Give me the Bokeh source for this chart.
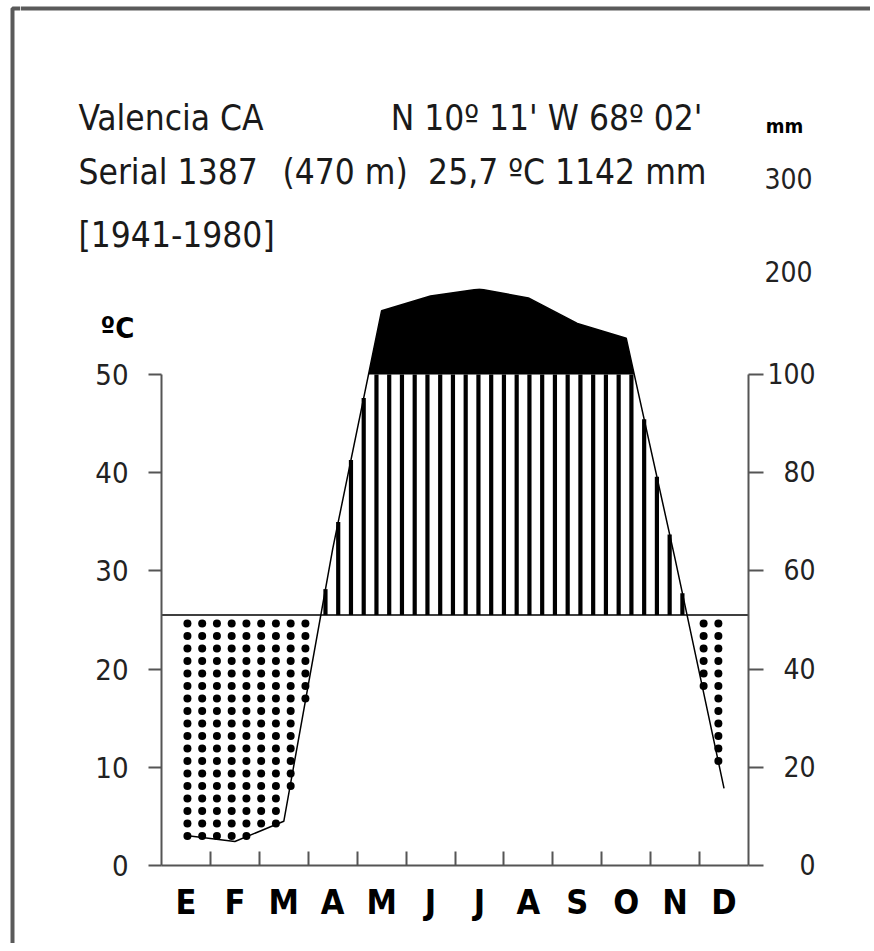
import numpy as np
from bokeh.plotting import figure
from bokeh.layouts import column, row
from bokeh.models import Range1d, LinearAxis, FixedTicker, Label
from bokeh.embed import file_html
from bokeh.resources import INLINE

# ---------------- data ----------------
months = ["E", "F", "M", "A", "M", "J", "J", "A", "S", "O", "N", "D"]
temp_c = [25.5, 25.5, 25.5, 25.5, 25.5, 25.5, 25.5, 25.5, 25.5, 25.5, 25.5, 25.5]
precip_mm = [6.1, 4.9, 9.0, 64.5, 165.0, 180.0, 187.0, 178.0, 152.0, 137.0, 62.4, 15.7]
temp_ticks = [0, 10, 20, 30, 40, 50]
precip_ticks = [0, 20, 40, 60, 80, 100]
precip_upper_ticks = [200, 300]
title_station = "Valencia  CA"
title_coords = "N 10º 11' W 68º 02'"
title_serial = "Serial 1387"
title_alt = "(470 m)"
title_means = "25,7 ºC 1142 mm"
title_period = "[1941-1980]"

# ---------------- layout constants ----------------
FONT = "DejaVu Sans Condensed"
W, H = 870, 943
HEAD_H = 288            # header strip height
STRIP_W = 20            # left strip holding the outer frame line
CH_W, CH_H = W - STRIP_W, H - HEAD_H
BL, BR, BT, BB = 161 - STRIP_W, W - 748, 0, 78
PX_PER_C = 9.82
YTOP = (CH_H - BT - BB) / PX_PER_C
Y_ZERO_PAGE = HEAD_H + CH_H - BB  # page y of 0 degC
FRAME_COLOR = "#5a5a5a"
AX = "#555555"
LBL = "#222222"


def precip_to_c(p):
    # Walter-Lieth scale: 2 mm per degC up to 100 mm, 10 mm per degC above
    return p / 2.0 if p <= 100 else 50.0 + (p - 100.0) / 10.0


def page_y_of_mm(v):
    return Y_ZERO_PAGE - precip_to_c(v) * PX_PER_C


def blank_fig(x0, x1, y0, y1):
    f = figure(width=x1 - x0, height=y1 - y0, x_range=Range1d(x0, x1), y_range=Range1d(y1, y0),
               output_backend="svg", toolbar_location=None,
               x_axis_location=None, y_axis_location=None,
               min_border=0, min_border_left=0, min_border_right=0,
               min_border_top=0, min_border_bottom=0)
    f.grid.visible = False
    f.outline_line_color = None
    f.background_fill_color = "white"
    f.border_fill_color = "white"
    return f


# ---------------- left strip (outer frame line), page coordinates ----------------
strip = blank_fig(0, STRIP_W, 0, H)
strip.line(x=[12, 12, STRIP_W], y=[H, 8, 8], line_color=FRAME_COLOR, line_width=4)

# ---------------- header, page coordinates ----------------
head = blank_fig(STRIP_W, W, 0, HEAD_H)
TT = dict(text_font=FONT, text_font_size="35px", text_color="#1a1a1a",
          text_baseline="alphabetic")
head.add_layout(Label(x=78, y=117, text=title_station, text_align="left", **TT))
head.add_layout(Label(x=702, y=117, text=title_coords, text_align="right", **TT))
head.add_layout(Label(x=78, y=171, text=title_serial, text_align="left", **TT))
head.add_layout(Label(x=282, y=171, text=title_alt, text_align="left", **TT))
head.add_layout(Label(x=706, y=171, text=title_means, text_align="right", **TT))
head.add_layout(Label(x=78, y=234, text=title_period, text_align="left", **TT))
head.add_layout(Label(x=784, y=125, text="mm", text_align="center", text_baseline="middle",
                      text_font=FONT, text_font_style="bold", text_font_size="20px",
                      text_color="black"))
for v in precip_upper_ticks:
    # keep the 200 label fully inside the header strip
    head.add_layout(Label(x=812, y=min(page_y_of_mm(v), HEAD_H - 17), text=str(v),
                          text_align="right", text_baseline="middle", text_font=FONT,
                          text_font_size="28px", text_color=LBL))
head.line(x=[STRIP_W, W], y=[8, 8], line_color=FRAME_COLOR, line_width=4)

# ---------------- climate chart ----------------
x_mid = np.arange(12) + 0.5
t = np.array(temp_c, dtype=float)
pc = np.array([precip_to_c(v) for v in precip_mm])

p = figure(width=CH_W, height=CH_H, x_range=Range1d(0, 12), y_range=Range1d(0, YTOP),
           output_backend="svg", toolbar_location=None,
           x_axis_location=None, y_axis_location=None,
           min_border_left=BL, min_border_right=BR,
           min_border_bottom=BB, min_border_top=BT)
p.extra_y_ranges = {"mm": Range1d(0, 2 * YTOP)}
p.grid.visible = False
p.outline_line_color = None
p.background_fill_color = "white"
p.border_fill_color = "white"


def with_crossings(x, y, level):
    xs, ys = [x[0]], [y[0]]
    for i in range(1, len(x)):
        a, b = y[i - 1] - level, y[i] - level
        if a * b < 0:
            f = a / (a - b)
            xs.append(x[i - 1] + f * (x[i] - x[i - 1]))
            ys.append(level)
        xs.append(x[i])
        ys.append(y[i])
    return np.array(xs), np.array(ys)


# black area: precipitation above 100 mm
bx, by = with_crossings(x_mid, pc, 50.0)
p.varea(x=bx, y1=np.full(len(by), 50.0), y2=np.maximum(by, 50.0), fill_color="black")

# vertical hatching: humid period
HATCH_PHASE, HATCH_DX = 0.2248, 0.2606
hx = HATCH_PHASE + HATCH_DX * np.arange(int(12 / HATCH_DX) + 2)
hx = hx[(hx >= 0.5) & (hx <= 11.5)]
hp = np.interp(hx, x_mid, pc)
ht = np.interp(hx, x_mid, t)
mk = hp > ht
p.segment(x0=hx[mk], y0=ht[mk], x1=hx[mk], y1=np.minimum(hp[mk], 50.0),
          line_color="black", line_width=4.2, line_cap="butt")

# dotted area: arid period
DOT_X0, DOT_DX, DOT_DY, DOT_GAP = 0.53, 0.3015, 1.273, 0.86
dcols = DOT_X0 + DOT_DX * np.arange(int(12 / DOT_DX) + 2)
dcols = dcols[(dcols >= 0.5) & (dcols <= 11.5)]
dxs, dys = [], []
for xc in dcols:
    pcol = np.interp(xc, x_mid, pc)
    tcol = np.interp(xc, x_mid, t)
    if pcol >= tcol - 1.0:
        continue
    rows = tcol - DOT_GAP - DOT_DY * np.arange(40)
    rows = rows[rows >= pcol - 0.35]
    dxs.extend([xc] * len(rows))
    dys.extend(rows.tolist())
p.scatter(x=dxs, y=dys, size=8, marker="circle", fill_color="black", line_color=None)

# curves
p.line(x=x_mid, y=pc, line_color="black", line_width=1.5)
p.line(x=np.r_[0.0, x_mid, 12.0], y=np.r_[t[0], t, t[-1]], line_color="black", line_width=1.5)

# bottom axis (months)
xa = LinearAxis(ticker=FixedTicker(ticks=x_mid.tolist(), minor_ticks=list(range(1, 12))),
                major_label_overrides={float(c): m for c, m in zip(x_mid, months)})
xa.axis_line_color = AX
xa.axis_line_width = 2
xa.major_tick_line_color = None
xa.major_tick_in = 0
xa.major_tick_out = 0
xa.minor_tick_line_color = AX
xa.minor_tick_line_width = 2
xa.minor_tick_in = 14
xa.minor_tick_out = 0
xa.major_label_standoff = 16
xa.major_label_text_font = FONT
xa.major_label_text_font_style = "bold"
xa.major_label_text_font_size = "34px"
xa.major_label_text_color = "black"
p.add_layout(xa, "below")

# left axis (degC)
ya = LinearAxis(ticker=FixedTicker(ticks=temp_ticks), bounds=(0, 50))
ya.axis_line_color = AX
ya.axis_line_width = 2
ya.major_tick_line_color = AX
ya.major_tick_line_width = 2
ya.major_tick_in = 0
ya.major_tick_out = 13
ya.minor_tick_line_color = None
ya.major_label_standoff = 20
ya.major_label_text_font = FONT
ya.major_label_text_font_size = "29px"
ya.major_label_text_color = LBL
p.add_layout(ya, "left")

# unit label above the degC axis (side panel, so it is not clipped); chart-canvas coords
p.add_layout(Label(x=100 - STRIP_W, y=327 - HEAD_H, x_units="canvas", y_units="canvas",
                   text="ºC", text_align="left", text_baseline="middle", text_font=FONT,
                   text_font_style="bold", text_font_size="29px", text_color="black"), "left")

# right axis (mm)
ra = LinearAxis(y_range_name="mm", ticker=FixedTicker(ticks=precip_ticks), bounds=(0, 100),
                major_label_overrides={v: "\u00a0" * (2 * (3 - len(str(v)))) + str(v) for v in precip_ticks})
ra.axis_line_color = AX
ra.axis_line_width = 2
ra.major_tick_line_color = AX
ra.major_tick_line_width = 2
ra.major_tick_in = 0
ra.major_tick_out = 15
ra.minor_tick_line_color = None
ra.major_label_standoff = 4
ra.major_label_text_font = FONT
ra.major_label_text_font_size = "28px"
ra.major_label_text_color = LBL
p.add_layout(ra, "right")

# wrap the chart in its own row so that its frame is not aligned with the header's
layout = row(strip, column(head, row(p, spacing=0), spacing=0), spacing=0)
open("out.html", "w").write(file_html(layout, INLINE))
